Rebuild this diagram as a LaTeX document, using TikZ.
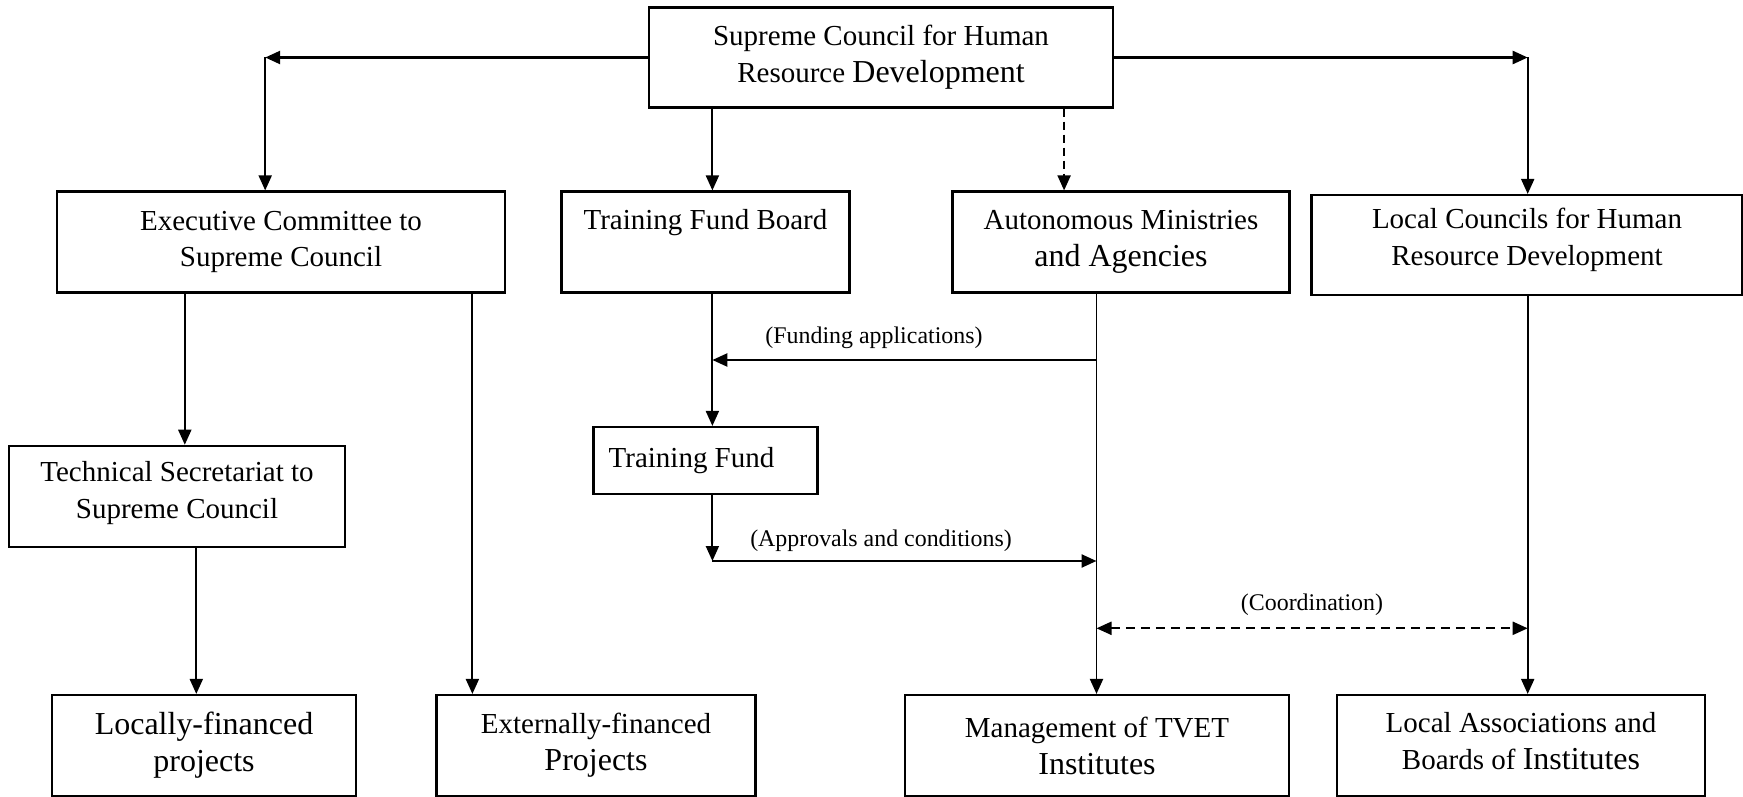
\documentclass[tikz,border=0pt]{standalone}
\usepackage{fontspec}
\setmainfont{Liberation Serif}
\usetikzlibrary{arrows.meta,positioning}
\newcommand{\bigtxt}[1]{{\fontsize{9.1pt}{10.5pt}\selectfont #1}}

\begin{document}
\begin{tikzpicture}[
    box/.style={rectangle, draw, line width=0.6pt, align=center, inner sep=2pt,
                minimum height=1.01cm, font=\fontsize{8.25pt}{10.5pt}\selectfont},
    lbl/.style={font=\fontsize{6.8pt}{8pt}\selectfont, inner sep=1pt},
    link/.style={->, line width=0.55pt},
    >={Triangle[length=1.5mm, width=1.3mm]}
  ]
    \useasboundingbox (0,0) rectangle (17.43,-7.97);

    % Top level
    \node[box, minimum width=4.64cm, minimum height=1.0cm] (sup) at (8.81,-0.575)
      {Supreme Council for Human\\Resource \bigtxt{Development}};

    % Second row
    \node[box, minimum width=4.48cm] (exec) at (2.81,-2.42)
      {Executive Committee to\\Supreme Council};
    \node[box, minimum width=2.88cm, text depth=2.6pt] (tfb) at (7.055,-2.42)
      {Training Fund Board\\\mbox{}};
    \node[box, minimum width=3.37cm] (aut) at (11.21,-2.42)
      {Autonomous Ministries\\\bigtxt{and Agencies}};
    \node[box, minimum width=4.31cm, minimum height=1.0cm, text depth=4.5pt] (lcl) at (15.27,-2.45)
      {Local Councils for Human\\Resource Development};

    % Middle row
    \node[box, minimum width=3.36cm, text depth=3.6pt] (tech) at (1.77,-4.963)
      {Technical Secretariat to\\Supreme Council};
    \node[box, minimum width=2.24cm, minimum height=0.67cm] (tf) at (7.055,-4.605)
      {Training Fund\hspace*{0.28cm}};

    % Bottom row
    \node[box, minimum width=3.04cm] (loc) at (2.04,-7.455)
      {\bigtxt{Locally-financed}\\\bigtxt{projects}};
    \node[box, minimum width=3.19cm] (ext) at (5.96,-7.455)
      {Externally-financed\\\bigtxt{Projects}};
    \node[box, minimum width=3.84cm] (mgt) at (10.97,-7.455)
      {Management of TVET\\\bigtxt{Institutes}};
    \node[box, minimum width=3.68cm, text depth=2.8pt] (lab) at (15.21,-7.455)
      {Local Associations and\\Boards of \bigtxt{Institutes}};

    % Corners and junctions
    \coordinate (tl) at (2.652,-0.575);
    \coordinate (tr) at (15.277,-0.575);
    \coordinate (fa) at (10.965,-3.60);
    \coordinate (ap) at (7.124,-5.61);
    \coordinate (co) at (10.965,-6.283);

    % From the Supreme Council
    \draw[link, line width=0.7pt] (sup.west) -- (tl);
    \draw[link] (tl) -- (tl |- exec.north);
    \draw[link, line width=0.7pt] (sup.east) -- (tr);
    \draw[link] (tr) -- (tr |- lcl.north);
    \draw[link] (7.124,0 |- sup.south) -- (7.124,0 |- tfb.north);
    \draw[link, dash pattern=on 0.8mm off 0.5mm] (10.641,0 |- sup.south) -- (10.641,0 |- aut.north);

    % Left branch
    \draw[link] (1.848,0 |- exec.south) -- (1.848,0 |- tech.north);
    \draw[link] (4.724,0 |- exec.south) -- (4.724,0 |- ext.north);
    \draw[link] (1.963,0 |- tech.south) -- (1.963,0 |- loc.north);

    % Training fund
    \draw[link] (7.124,0 |- tfb.south) -- (7.124,0 |- tf.north);
    \draw[link, line width=0.7pt] (fa) -- (fa -| ap)
      node[lbl] (fl) at (8.74,-3.38) {(Funding applications)};
    \draw[link] (7.124,0 |- tf.south) -- (ap);
    \draw[link, line width=0.7pt] (ap) -- (ap -| fa)
      node[lbl] (al) at (8.81,-5.41) {(Approvals and conditions)};

    % Right branch
    \draw[link] (10.965,0 |- aut.south) -- (10.965,0 |- mgt.north);
    \draw[link] (tr |- lcl.south) -- (tr |- lab.north);
    \draw[<->, line width=0.6pt, dash pattern=on 0.9mm off 0.6mm] (co) -- (co -| tr)
      node[lbl] (cl) at (13.12,-6.05) {(Coordination)};
\end{tikzpicture}
\end{document}
